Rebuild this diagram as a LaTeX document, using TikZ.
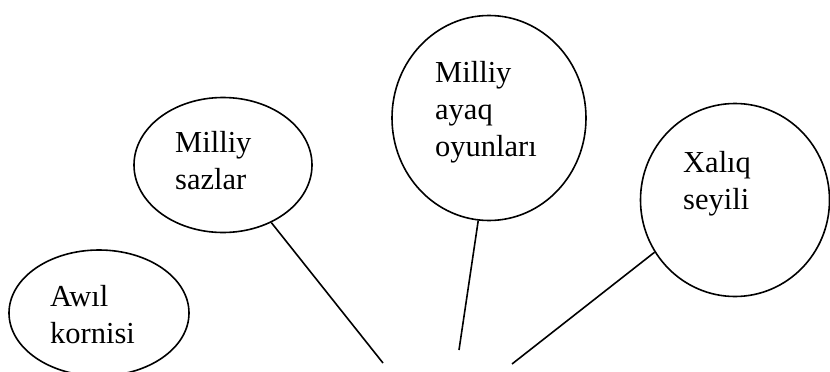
\documentclass[tikz,border=0pt]{standalone}
\usepackage{fontspec}
\setmainfont{Liberation Serif}
\usetikzlibrary{shapes.geometric}

\begin{document}
\begin{tikzpicture}[x=1pt, y=-1pt,
    bubble/.style={draw, ellipse, line width=1.6pt, inner sep=0pt},
    caption/.style={align=left, inner sep=0pt, font=\fontsize{30.5}{37}\selectfont},
    spoke/.style={line width=1.6pt}]
    \useasboundingbox (0, 0) rectangle (830, 372);

    \node [bubble, minimum width=180pt, minimum height=126pt] (awil) at (99, 313) {};
    \node [bubble, minimum width=178pt, minimum height=135pt] (sazlar) at (223, 165) {};
    \node [bubble, minimum width=194pt, minimum height=205pt] (ayaq) at (489, 118) {};
    \node [bubble, minimum width=189pt, minimum height=193pt] (seyil) at (735, 200) {};

    % base anchor sits on the last line
    \node [caption, anchor=base west] (awil-txt) at (50, 343) {Awıl\\kornisi};
    \node [caption, anchor=base west] (sazlar-txt) at (175, 189) {Milliy\\sazlar};
    \node [caption, anchor=base west] (ayaq-txt) at (435, 156) {Milliy\\ayaq\\oyunları};
    \node [caption, anchor=base west] (seyil-txt) at (683, 209) {Xalıq\\seyili};

    \coordinate (sazlar-end) at (383, 363);
    \coordinate (ayaq-end) at (459, 350);
    \coordinate (seyil-end) at (512, 364);

    \draw [spoke] (sazlar.-50) -- (sazlar-end);
    \draw [spoke] (ayaq.-96.6) -- (ayaq-end);
    \draw [spoke] (seyil.-147) -- (seyil-end);
\end{tikzpicture}
\end{document}
